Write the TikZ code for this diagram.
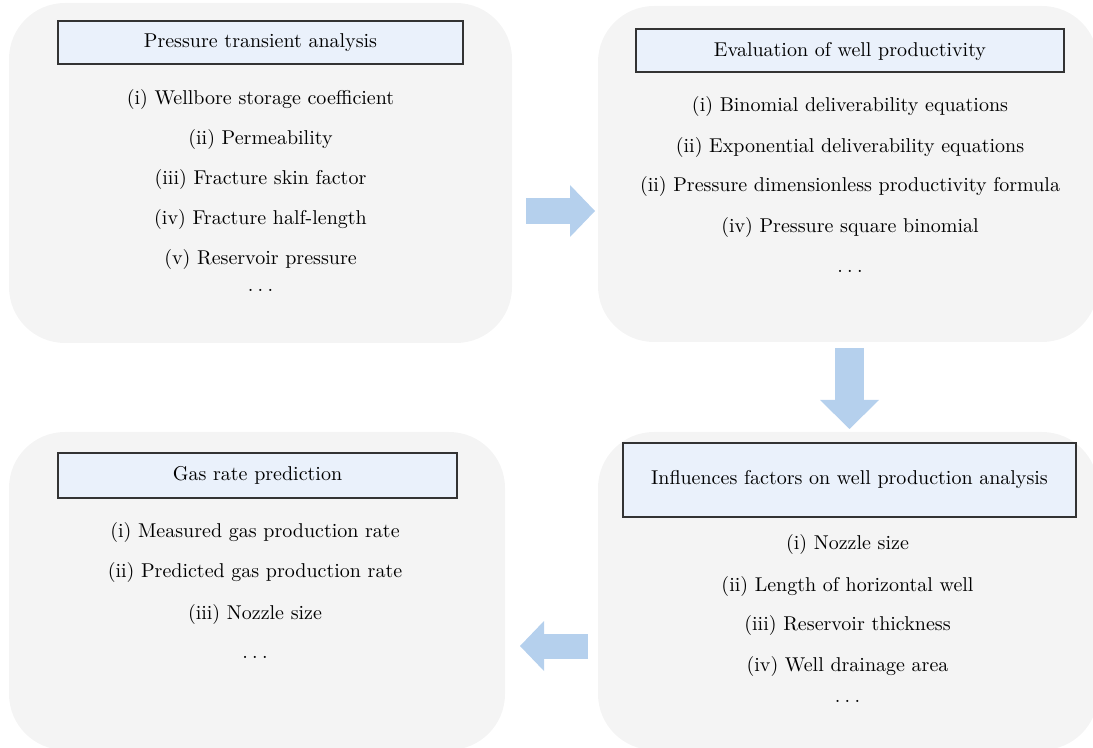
\documentclass[tikz,border=0pt]{standalone}
\usepackage{amsmath}
\usepackage{amssymb}
\usetikzlibrary{arrows.meta}

\definecolor{panelgray}{RGB}{244,244,244}
\definecolor{titleblue}{RGB}{234,241,251}
\definecolor{flowblue}{RGB}{181,208,237}
\newcommand{\moredots}{.\kern2.2pt.\kern2.2pt.}

\begin{document}
\begin{tikzpicture}[x=0.5pt,y=-0.5pt,
  panel/.style={fill=panelgray,rounded corners=28pt,inner sep=0pt},
  titlebox/.style={draw=black!80,fill=titleblue,line width=0.7pt,inner sep=0pt},
  item/.style={anchor=base,inner sep=0pt,font=\fontsize{10}{12}\selectfont},
  flow/.style={color=flowblue}]
\useasboundingbox (0,0) rectangle (1093,748);
\clip (0,0) rectangle (1093,748);

% the four panels
\node[panel,minimum width=251.5pt,minimum height=170pt] (pta) at (260.5,173) {};
\node[panel,minimum width=250pt,minimum height=168pt] (ewp) at (848,174) {};
\node[panel,minimum width=250pt,minimum height=159pt] (inf) at (848,591) {};
\node[panel,minimum width=248pt,minimum height=159pt] (grp) at (257,591) {};

% title boxes
\node[titlebox,minimum width=202.5pt,minimum height=21.5pt] (pta-title) at (260.5,42.5) {};
\node[titlebox,minimum width=214pt,minimum height=21.5pt] (ewp-title) at (850,50.5) {};
\node[titlebox,minimum width=226.5pt,minimum height=37pt] (inf-title) at (849.5,480) {};
\node[titlebox,minimum width=199.5pt,minimum height=22.5pt] (grp-title) at (257.5,475.5) {};

\node[item] (pta-t) at (260.5,48) {Pressure transient analysis};
\node[item] (ewp-t) at (850,57) {Evaluation of well productivity};
\node[item] (inf-t) at (849.5,485) {Influences factors on well production analysis};
\node[item] (grp-t) at (257.5,481) {Gas rate prediction};

% pressure transient analysis
\node[item] (pta-1) at (260.5,105) {(i) Wellbore storage coefficient};
\node[item] (pta-2) at (260.5,145) {(ii) Permeability};
\node[item] (pta-3) at (260.5,185) {(iii) Fracture skin factor};
\node[item] (pta-4) at (260.5,225) {(iv) Fracture half-length};
\node[item] (pta-5) at (260.5,265) {(v) Reservoir pressure};
\node[item] (pta-6) at (260.5,292) {\moredots};

% evaluation of well productivity
\node[item] (ewp-1) at (850,112) {(i) Binomial deliverability equations};
\node[item] (ewp-2) at (850,153) {(ii) Exponential deliverability equations};
\node[item] (ewp-3) at (850,192) {(ii) Pressure dimensionless productivity formula};
\node[item] (ewp-4) at (850,233) {(iv) Pressure square binomial};
\node[item] (ewp-5) at (850,273) {\moredots};

% influence factors
\node[item] (inf-1) at (847.5,550) {(i) Nozzle size};
\node[item] (inf-2) at (847.5,591) {(ii) Length of horizontal well};
\node[item] (inf-3) at (847.5,631) {(iii) Reservoir thickness};
\node[item] (inf-4) at (847.5,671) {(iv) Well drainage area};
\node[item] (inf-5) at (847.5,702) {\moredots};

% gas rate prediction
\node[item] (grp-1) at (255,538) {(i) Measured gas production rate};
\node[item] (grp-2) at (255,578) {(ii) Predicted gas production rate};
\node[item] (grp-3) at (255,619) {(iii) Nozzle size};
\node[item] (grp-4) at (255,659) {\moredots};

% block arrows
\coordinate (r-from) at (526,211);
\coordinate (r-to) at (595,211);
\coordinate (d-from) at (849.5,348);
\coordinate (d-to) at (849.5,429);
\coordinate (l-from) at (588,646);
\coordinate (l-to) at (520,646);

\draw[flow,line width=13pt,-{Triangle[length=12.5pt,width=26pt,line width=0pt]}] (r-from) -- (r-to);
\draw[flow,line width=14.5pt,-{Triangle[length=14.5pt,width=29.5pt,line width=0pt]}] (d-from) -- (d-to);
\draw[flow,line width=12.5pt,-{Triangle[length=12pt,width=25pt,line width=0pt]}] (l-from) -- (l-to);
\end{tikzpicture}
\end{document}
